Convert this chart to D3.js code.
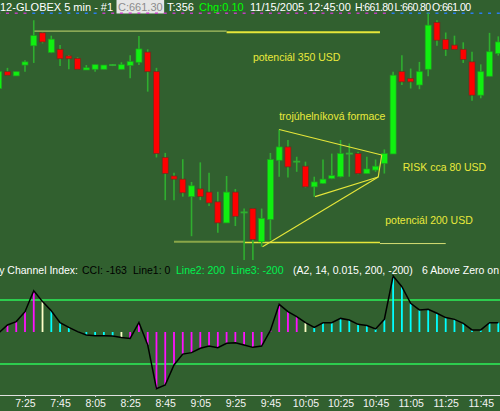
<!DOCTYPE html>
<html>
<head>
<meta charset="utf-8">
<script src="https://cdn.jsdelivr.net/npm/d3@7"></script>
<style>
body { margin: 0; background: #31602f; overflow: hidden; }
svg { display: block; font-family: "Liberation Sans", Arial, sans-serif; }
</style>
</head>
<body>
<div id="chart"></div>
<script>
// ER2 5 min bars, 11/15/2005, 7:10 .. 11:55
var startTime = new Date(2005, 10, 15, 7, 10)
var barMinutes = 5

var opens = [661.36, 661.84, 661.72, 662.03, 662.58, 662.95, 662.39, 662.48, 662.29, 662.22,
  661.89, 661.91, 661.91, 662.03, 661.91, 662.02, 662.11, 662.40, 661.84, 659.39,
  658.86, 658.77, 658.27, 658.49, 658.40, 658.12, 657.52, 658.40, 657.82, 657.93,
  656.98, 657.62, 659.31, 659.69, 659.27, 659.14, 658.55, 658.65, 658.79, 658.84,
  659.50, 659.50, 658.93, 659.03, 659.22, 659.49, 661.84, 661.65, 661.46, 661.91,
  663.25, 662.76, 662.60, 662.48, 662.12, 661.17, 661.71, 662.36]
var highs = [661.89, 661.95, 661.84, 662.17, 663.31, 662.97, 662.87, 662.60, 662.32, 662.25,
  662.03, 662.04, 662.03, 662.06, 662.11, 662.31, 662.86, 662.48, 661.95, 659.52,
  658.95, 659.34, 658.69, 659.25, 658.95, 658.41, 658.86, 658.49, 657.93, 657.93,
  657.93, 659.52, 660.19, 659.89, 659.41, 659.27, 658.84, 659.33, 659.50, 659.89,
  659.79, 659.55, 659.41, 659.33, 659.62, 661.84, 662.31, 661.93, 662.12, 663.51,
  663.31, 662.96, 662.87, 662.68, 662.41, 662.05, 662.95, 662.85]
var lows = [661.34, 661.74, 661.72, 661.84, 662.09, 662.65, 662.37, 662.00, 661.91, 661.91,
  661.89, 661.84, 661.91, 662.00, 661.91, 661.65, 662.03, 661.27, 659.39, 658.17,
  658.17, 658.27, 657.14, 658.17, 658.00, 657.24, 657.52, 657.43, 656.46, 656.46,
  656.84, 657.03, 658.84, 658.82, 658.98, 658.53, 658.27, 658.63, 658.77, 658.82,
  658.84, 658.91, 658.93, 658.98, 658.93, 659.49, 661.46, 661.36, 661.34, 661.71,
  662.58, 662.29, 662.48, 662.09, 661.01, 661.08, 661.71, 662.30]
var closes = [661.84, 661.74, 661.84, 662.12, 662.87, 662.69, 662.77, 662.21, 662.21, 661.91,
  661.95, 662.04, 662.03, 662.03, 662.04, 662.13, 662.49, 661.84, 659.50, 658.93,
  658.77, 658.38, 658.58, 658.27, 658.09, 657.52, 658.40, 657.71, 657.82, 657.05,
  657.65, 659.33, 659.69, 659.12, 659.27, 658.55, 658.69, 658.77, 658.87, 659.50,
  659.50, 658.93, 659.06, 659.14, 659.50, 661.74, 661.55, 661.55, 661.84, 663.17,
  662.74, 662.48, 662.48, 662.19, 661.17, 661.84, 662.41, 662.69]

// CCI(14) values and histogram colour codes (m magenta, c cyan, w pale)
var cci = [-5, 44, 65, 127, 258, 190, 133, 58, 29, 2,
  -19, -23, -23, -25, -35, -40, 60, -81, -355, -331,
  -206, -138, -129, -102, -88, -98, -71, -67, -81, -96,
  -88, 10, 173, 127, 96, 58, 29, 58, 58, 85,
  75, 48, 40, 19, 79, 350, 283, 179, 138, 142,
  117, 90, 79, 54, 13, 13, 58, 58]
var cciColors = 'mmmmmwccccccccwmmmmmmmmmmmmmmmmmmmmwcccccccccccccccccccccc'
// status dots under the header
var dotColors = 'mmmmbbbbbbbbmmmmmmmmmmmmmmmmmmmmmmmmmmmmmmmmmbbbbbbbbbbbbb'

var cciLevels = [200, -200]

// drawn lines, in bar index / price
var levelLines = [
  {from: 4, to: 26, price: 663.00},
  {from: 26, to: 43.5, price: 662.97},
  {from: 20, to: 28, price: 656.98},
  {from: 28, to: 43.5, price: 656.96},
  {from: 43.5, to: 51, price: 656.93}
]
var triangleLines = [
  [{i: 32, p: 660.19}, {i: 43.7, p: 659.46}],
  [{i: 43.7, p: 659.46}, {i: 43.3, p: 658.83}],
  [{i: 36.1, p: 658.27}, {i: 43.3, p: 658.83}],
  [{i: 30.1, p: 656.84}, {i: 43.3, p: 658.83}]
]
var notes = [
  {text: 'potenciál 350 USD', i: 29.0, p: 662.14},
  {text: 'trojúhelníková formace', i: 32.0, p: 660.46},
  {text: 'RISK cca 80 USD', i: 46.1, p: 659.00},
  {text: 'potenciál 200 USD', i: 44.1, p: 657.49}
]

// header items; quotes are set tighter
var header = [
  {text: '12-GLOBEX 5 min - #1', x: 0, color: '#ffffff'},
  {text: 'C:661.30', x: 118, color: '#8c8c8c', box: true},
  {text: 'T:356', x: 167, color: '#ffffff'},
  {text: 'Chg:0.10', x: 199, color: '#00ff00'},
  {text: '11/15/2005', x: 250, color: '#ffffff'},
  {text: '12:45:00', x: 308, color: '#ffffff'},
  {text: 'H:661.80', x: 355, color: '#ffffff', tight: true},
  {text: 'L:660.80', x: 394.5, color: '#ffffff', tight: true},
  {text: 'O:661.00', x: 432, color: '#ffffff', tight: true}
]
var cciTitle = [
  {text: 'Commodity Channel Index:', x: 78, color: '#ffffff', anchor: 'end'},
  {text: 'CCI: -163', x: 82, color: '#000000'},
  {text: 'Line1: 0', x: 133, color: '#000000'},
  {text: 'Line2: 200', x: 176, color: '#00f050'},
  {text: 'Line3: -200', x: 231, color: '#00f050'},
  {text: '(A2, 14, 0.015, 200, -200)', x: 293, color: '#ffffff'},
  {text: '6 Above Zero on', x: 422, color: '#ffffff'}
]

var width = 500, height = 411
var bg = '#31602f'
var wickColor = '#2fae2f'
var histColor = {m: '#ff10ff', c: '#00ffff', w: '#ffffc8'}
var dotColor = {m: '#c040c0', b: '#2a7cf0'}
var levelStyle = [
  {color: '#c8d870', w: 1},
  {color: '#e6e63a', w: 2},
  {color: '#8aa648', w: 2},
  {color: '#e6e63a', w: 1.5},
  {color: '#d6de74', w: 1}
]

var times = opens.map(function(d, i) { return d3.timeMinute.offset(startTime, i * barMinutes) })
var bars = opens.map(function(d, i) {
  return {t: times[i], o: d, h: highs[i], l: lows[i], c: closes[i], cci: cci[i], hc: cciColors[i], dc: dotColors[i]}
})

var svg = d3.select('#chart').append('svg')
  .attr('width', width)
  .attr('height', height)

svg.append('rect').attr('width', width).attr('height', height).attr('fill', bg)

var x = d3.scaleTime().domain([times[0], times[times.length - 1]]).range([-1.3, 498.3])
var y = d3.scaleLinear().domain([656.46, 663.46]).range([260, 15])
var yc = d3.scaleLinear().domain([-200, 200]).range([364, 300])

function xi(idx) { return x(new Date(+startTime + idx * barMinutes * 60000)) }

// header
var head = svg.append('g').attr('class', 'header')
header.forEach(function(h) {
  var t = head.append('text')
    .attr('x', h.x).attr('y', 11)
    .attr('fill', h.color)
    .style('font-size', h.tight ? '10.5px' : '11px')
    .style('letter-spacing', h.tight ? '-0.6px' : null)
    .text(h.text)
  if (h.box) {
    var w = t.node().getComputedTextLength()
    head.insert('rect', 'text').attr('x', h.x - 1.5).attr('y', 0).attr('width', w + 3).attr('height', 13.5).attr('fill', '#e6e6e6')
  }
})

svg.append('g').selectAll('rect')
  .data(bars)
  .enter().append('rect')
  .attr('x', function(d) { return x(d.t) - 1.5 })
  .attr('y', 12.5)
  .attr('width', 3)
  .attr('height', 1.5)
  .attr('fill', function(d) { return dotColor[d.dc] })

// level lines
svg.append('g').selectAll('line')
  .data(levelLines)
  .enter().append('line')
  .attr('x1', function(d) { return xi(d.from) })
  .attr('x2', function(d) { return xi(d.to) })
  .attr('y1', function(d) { return y(d.price) })
  .attr('y2', function(d) { return y(d.price) })
  .attr('stroke', function(d, i) { return levelStyle[i].color })
  .attr('stroke-width', function(d, i) { return levelStyle[i].w })

// candles
var candle = svg.append('g').attr('class', 'candles').selectAll('g')
  .data(bars)
  .enter().append('g')

candle.append('line')
  .attr('x1', function(d) { return x(d.t) })
  .attr('x2', function(d) { return x(d.t) })
  .attr('y1', function(d) { return y(d.h) })
  .attr('y2', function(d) { return y(d.l) })
  .attr('stroke', wickColor)
  .attr('stroke-width', 1.6)

candle.filter(function(d) { return d.o !== d.c }).append('rect')
  .attr('x', function(d) { return x(d.t) - 3 })
  .attr('y', function(d) { return y(Math.max(d.o, d.c)) })
  .attr('width', 6)
  .attr('height', function(d) { return Math.max(1.5, y(Math.min(d.o, d.c)) - y(Math.max(d.o, d.c))) })
  .attr('fill', function(d) { return d.c > d.o ? '#10f010' : '#ff0000' })
  .attr('stroke', function(d) { return d.c > d.o ? '#20a020' : '#6a3020' })
  .attr('stroke-width', 0.7)

candle.filter(function(d) { return d.o === d.c }).append('line')
  .attr('x1', function(d) { return x(d.t) - 3.5 })
  .attr('x2', function(d) { return x(d.t) + 3.5 })
  .attr('y1', function(d) { return y(d.o) })
  .attr('y2', function(d) { return y(d.o) })
  .attr('stroke', wickColor)
  .attr('stroke-width', 1.8)

// triangle
svg.append('g').selectAll('line')
  .data(triangleLines)
  .enter().append('line')
  .attr('x1', function(d) { return xi(d[0].i) })
  .attr('y1', function(d) { return y(d[0].p) })
  .attr('x2', function(d) { return xi(d[1].i) })
  .attr('y2', function(d) { return y(d[1].p) })
  .attr('stroke', '#e6e63a')
  .attr('stroke-width', 1.1)

svg.append('g').style('font-size', '10.5px').selectAll('text')
  .data(notes)
  .enter().append('text')
  .attr('x', function(d) { return xi(d.i) })
  .attr('y', function(d) { return y(d.p) })
  .attr('fill', '#eaea3c')
  .text(function(d) { return d.text })

// CCI panel
var cciTitleG = svg.append('g').style('font-size', '10.5px')
cciTitle.forEach(function(t) {
  cciTitleG.append('text')
    .attr('x', t.x).attr('y', 274)
    .attr('text-anchor', t.anchor || 'start')
    .attr('fill', t.color)
    .text(t.text)
})

svg.append('g').selectAll('line')
  .data(cciLevels)
  .enter().append('line')
  .attr('x1', 0).attr('x2', width)
  .attr('y1', function(d) { return yc(d) })
  .attr('y2', function(d) { return yc(d) })
  .attr('stroke', '#2cf05a')
  .attr('stroke-width', 1.5)

svg.append('g').selectAll('line')
  .data(bars)
  .enter().append('line')
  .attr('x1', function(d) { return x(d.t) })
  .attr('x2', function(d) { return x(d.t) })
  .attr('y1', yc(0))
  .attr('y2', function(d) { return yc(d.cci) })
  .attr('stroke', function(d) { return histColor[d.hc] })
  .attr('stroke-width', 1.8)

svg.append('path')
  .datum(bars)
  .attr('fill', 'none')
  .attr('stroke', '#000')
  .attr('stroke-width', 1.5)
  .attr('d', d3.line().x(function(d) { return x(d.t) }).y(function(d) { return yc(d.cci) }))

// time axis
var tickTimes = times.filter(function(d, i) { return (i - 3) % 4 === 0 })
var axis = svg.append('g')
  .attr('transform', 'translate(0,395)')
  .call(d3.axisBottom(x).tickValues(tickTimes).tickFormat(d3.timeFormat('%-H:%M')).tickSize(2).tickSizeOuter(0))

axis.select('.domain').remove()
axis.append('line').attr('x1', 0).attr('x2', width).attr('y1', 0.5).attr('y2', 0.5).attr('stroke', '#e0e0e0')
axis.selectAll('.tick line').attr('stroke', '#e0e0e0')
axis.selectAll('.tick text')
  .attr('fill', '#f4f4f4')
  .style('font-size', '10.5px')
  .style('font-family', '"Liberation Sans", Arial, sans-serif')
</script>
</body>
</html>
